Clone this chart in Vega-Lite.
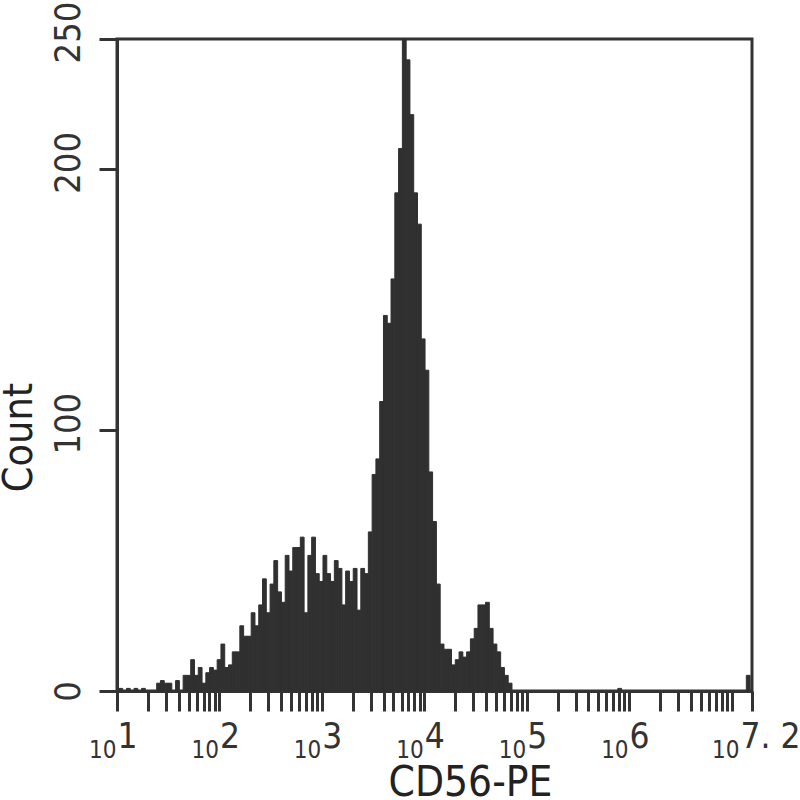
{
  "$schema": "https://vega.github.io/schema/vega-lite/v6.json",
  "width": 635,
  "height": 652,
  "autosize": {"type": "none"},
  "padding": {"left": 117, "top": 39, "right": 48, "bottom": 109},
  "data": {"values": [
    {"lo":1.0185,"hi":1.0554,"n":1},{"lo":1.0923,"hi":1.1292,"n":1},{"lo":1.1661,"hi":1.2030,"n":1},{"lo":1.2399,"hi":1.2768,"n":1},
    {"lo":1.3875,"hi":1.4244,"n":3},{"lo":1.4244,"hi":1.4613,"n":4},{"lo":1.4613,"hi":1.4982,"n":3},{"lo":1.4982,"hi":1.5351,"n":3},
    {"lo":1.5720,"hi":1.6089,"n":4},{"lo":1.6458,"hi":1.6827,"n":6},{"lo":1.6827,"hi":1.7196,"n":6},{"lo":1.7196,"hi":1.7565,"n":12},
    {"lo":1.7565,"hi":1.7935,"n":6},{"lo":1.7935,"hi":1.8304,"n":9},{"lo":1.8304,"hi":1.8673,"n":3},{"lo":1.8673,"hi":1.9042,"n":7},
    {"lo":1.9042,"hi":1.9411,"n":9},{"lo":1.9411,"hi":1.9780,"n":8},{"lo":1.9780,"hi":2.0149,"n":12},{"lo":2.0149,"hi":2.0518,"n":18},
    {"lo":2.0518,"hi":2.0887,"n":9},{"lo":2.0887,"hi":2.1256,"n":10},{"lo":2.1256,"hi":2.1625,"n":15},{"lo":2.1625,"hi":2.1994,"n":15},
    {"lo":2.1994,"hi":2.2363,"n":25},{"lo":2.2363,"hi":2.2732,"n":21},{"lo":2.2732,"hi":2.3101,"n":21},{"lo":2.3101,"hi":2.3470,"n":30},
    {"lo":2.3470,"hi":2.3839,"n":25},{"lo":2.3839,"hi":2.4208,"n":33},{"lo":2.4208,"hi":2.4577,"n":43},{"lo":2.4577,"hi":2.4946,"n":30},
    {"lo":2.4946,"hi":2.5315,"n":41},{"lo":2.5315,"hi":2.5685,"n":50},{"lo":2.5685,"hi":2.6054,"n":38},{"lo":2.6054,"hi":2.6423,"n":34},
    {"lo":2.6423,"hi":2.6792,"n":52},{"lo":2.6792,"hi":2.7161,"n":46},{"lo":2.7161,"hi":2.7530,"n":55},{"lo":2.7530,"hi":2.7899,"n":55},
    {"lo":2.7899,"hi":2.8268,"n":59},{"lo":2.8268,"hi":2.8637,"n":30},{"lo":2.8637,"hi":2.9006,"n":52},{"lo":2.9006,"hi":2.9375,"n":59},
    {"lo":2.9375,"hi":2.9744,"n":45},{"lo":2.9744,"hi":3.0113,"n":42},{"lo":3.0113,"hi":3.0482,"n":52},{"lo":3.0482,"hi":3.0851,"n":45},
    {"lo":3.0851,"hi":3.1220,"n":42},{"lo":3.1220,"hi":3.1589,"n":50},{"lo":3.1589,"hi":3.1958,"n":47},{"lo":3.1958,"hi":3.2327,"n":33},
    {"lo":3.2327,"hi":3.2696,"n":46},{"lo":3.2696,"hi":3.3065,"n":42},{"lo":3.3065,"hi":3.3435,"n":47},{"lo":3.3435,"hi":3.3804,"n":31},
    {"lo":3.3804,"hi":3.4173,"n":47},{"lo":3.4173,"hi":3.4542,"n":45},{"lo":3.4542,"hi":3.4911,"n":61},{"lo":3.4911,"hi":3.5280,"n":83},
    {"lo":3.5280,"hi":3.5649,"n":89},{"lo":3.5649,"hi":3.6018,"n":111},{"lo":3.6018,"hi":3.6387,"n":144},{"lo":3.6387,"hi":3.6756,"n":141},
    {"lo":3.6756,"hi":3.7125,"n":158},{"lo":3.7125,"hi":3.7494,"n":191},{"lo":3.7494,"hi":3.7863,"n":208},{"lo":3.7863,"hi":3.8232,"n":250},
    {"lo":3.8232,"hi":3.8601,"n":242},{"lo":3.8601,"hi":3.8970,"n":221},{"lo":3.8970,"hi":3.9339,"n":191},{"lo":3.9339,"hi":3.9708,"n":179},
    {"lo":3.9708,"hi":4.0077,"n":135},{"lo":4.0077,"hi":4.0446,"n":123},{"lo":4.0446,"hi":4.0815,"n":84},{"lo":4.0815,"hi":4.1185,"n":65},
    {"lo":4.1185,"hi":4.1554,"n":41},{"lo":4.1554,"hi":4.1923,"n":18},{"lo":4.1923,"hi":4.2292,"n":16},{"lo":4.2292,"hi":4.2661,"n":16},
    {"lo":4.2661,"hi":4.3030,"n":10},{"lo":4.3030,"hi":4.3399,"n":12},{"lo":4.3399,"hi":4.3768,"n":15},{"lo":4.3768,"hi":4.4137,"n":13},
    {"lo":4.4137,"hi":4.4506,"n":15},{"lo":4.4506,"hi":4.4875,"n":20},{"lo":4.4875,"hi":4.5244,"n":24},{"lo":4.5244,"hi":4.5613,"n":33},
    {"lo":4.5613,"hi":4.5982,"n":33},{"lo":4.5982,"hi":4.6351,"n":34},{"lo":4.6351,"hi":4.6720,"n":24},{"lo":4.6720,"hi":4.7089,"n":18},
    {"lo":4.7089,"hi":4.7458,"n":15},{"lo":4.7458,"hi":4.7827,"n":9},{"lo":4.7827,"hi":4.8196,"n":6},{"lo":4.8196,"hi":4.8565,"n":3},
    {"lo":5.8899,"hi":5.9268,"n":1},{"lo":7.1446,"hi":7.1816,"n":6}
  ]},
  "layer": [
    {
      "mark": {"type": "bar", "color": "#303030", "stroke": "#303030", "strokeWidth": 1},
      "encoding": {
        "x": {
          "field": "lo", "type": "quantitative",
          "scale": {"domain": [1, 7.2], "nice": false, "zero": false},
          "axis": {
            "orient": "bottom",
            "values": [1,1.30103,1.47712,1.60206,1.69897,1.77815,1.8451,1.90309,1.95424,
                       2,2.30103,2.47712,2.60206,2.69897,2.77815,2.8451,2.90309,2.95424,
                       3,3.30103,3.47712,3.60206,3.69897,3.77815,3.8451,3.90309,3.95424,
                       4,4.30103,4.47712,4.60206,4.69897,4.77815,4.8451,4.90309,4.95424,
                       5,5.30103,5.47712,5.60206,5.69897,5.77815,5.8451,5.90309,5.95424,
                       6,6.30103,6.47712,6.60206,6.69897,6.77815,6.8451,6.90309,6.95424,
                       7,7.2],
            "labelExpr": "datum.value == 7.2 ? '7. 2' : ((datum.value == round(datum.value) && datum.value < 7) ? format(datum.value, 'd') : '')",
            "labelFontSize": 35,
            "labelAlign": "left",
            "labelBaseline": "alphabetic",
            "labelPadding": 36,
            "labelOffset": {"condition": {"test": "datum.value == 7.2", "value": -12}, "value": 0},
            "labelFlush": false,
            "labelOverlap": false,
            "labelBound": false,
            "labelColor": "#333333",
            "tickSize": 20,
            "tickWidth": 3,
            "tickColor": "#333333",
            "domainColor": "#333333",
            "domainWidth": 3,
            "grid": false,
            "title": "CD56-PE",
            "titleFontSize": 42,
            "titleFontWeight": "normal",
            "titleColor": "#222222",
            "titleX": 353,
            "titleY": 104,
            "titleAlign": "center",
            "titleBaseline": "alphabetic"
          }
        },
        "x2": {"field": "hi"},
        "y": {
          "field": "n", "type": "quantitative",
          "scale": {"domain": [0, 250], "nice": false},
          "axis": {
            "values": [0, 100, 200, 250],
            "labelAngle": 270,
            "labelAlign": "center",
            "labelBaseline": "alphabetic",
            "labelPadding": 20,
            "labelFontSize": 36,
            "labelColor": "#333333",
            "labelOffset": {"condition": {"test": "datum.value == 0", "value": 0}, "value": -7},
            "labelFlush": false,
            "labelOverlap": false,
            "tickSize": 18,
            "tickWidth": 3,
            "tickColor": "#333333",
            "domainColor": "#333333",
            "domainWidth": 3,
            "grid": false,
            "title": "Count",
            "titleFontSize": 41,
            "titleFontWeight": "normal",
            "titleColor": "#222222",
            "titleAngle": 270,
            "titleX": -86,
            "titleY": 398,
            "titleAlign": "center",
            "titleBaseline": "alphabetic"
          }
        },
        "y2": {"datum": 0}
      }
    },
    {
      "mark": {"type": "bar", "opacity": 0},
      "encoding": {
        "x": {
          "field": "lo", "type": "quantitative",
          "scale": {"domain": [1, 7.2], "nice": false, "zero": false},
          "axis": {
            "orient": "bottom",
            "values": [1, 2, 3, 4, 5, 6, 7.2],
            "labelExpr": "'10'",
            "labelFontSize": 24,
            "labelAlign": "right",
            "labelBaseline": "alphabetic",
            "labelPadding": 46,
            "labelOffset": {"condition": {"test": "datum.value == 7.2", "value": -13}, "value": -1},
            "labelFlush": false,
            "labelOverlap": false,
            "labelBound": false,
            "labelColor": "#333333",
            "domain": false,
            "ticks": true,
            "tickSize": 20,
            "tickOpacity": 0,
            "grid": false,
            "title": null
          }
        },
        "x2": {"field": "hi"},
        "y": {"field": "n", "type": "quantitative"},
        "y2": {"datum": 0}
      }
    }
  ],
  "resolve": {"scale": {"x": "independent"}, "axis": {"x": "independent"}},
  "config": {
    "font": "DejaVu Sans Condensed, DejaVu Sans",
    "view": {"stroke": "#333333", "strokeWidth": 3}
  }
}
